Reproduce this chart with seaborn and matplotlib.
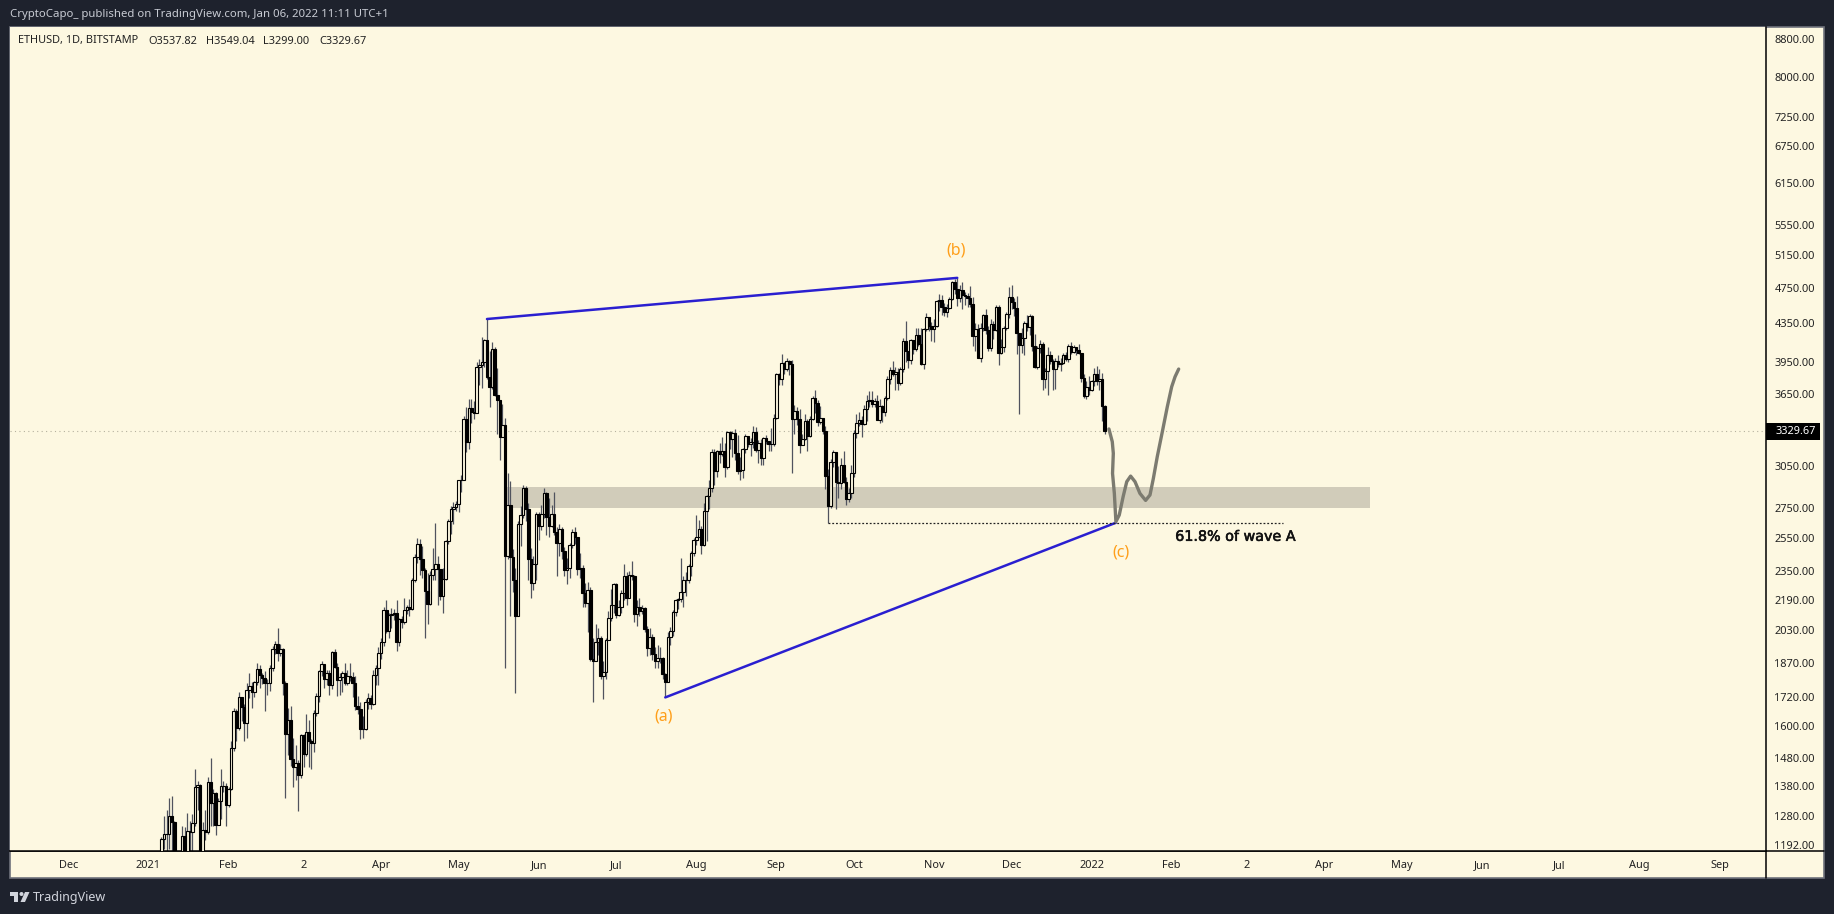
import numpy as np
import pandas as pd
import seaborn as sns
import matplotlib.pyplot as plt
import matplotlib.patheffects as pe
from matplotlib.patches import Rectangle, Circle, Polygon

# ==============================
# Daily candles, Jan 2021 - Jan 2022 (open = previous close)
# ==============================
closes = [
    730,775,979,1041,1101,1208,1225,1224,1281,1262,1090,1045,1130,1218,1171,1233,1230,1257,1377,1382,1120,1235,1231,1392,1323,1356,1253,1330,1380,1379,1314,
    1369,1515,1660,1593,1720,1677,1614,1750,1768,1743,1783,1843,1814,1804,1779,1781,1847,1937,1960,1920,1935,1781,1570,1626,1475,1446,1459,1417,
    1564,1492,1575,1541,1533,1654,1723,1835,1868,1800,1826,1770,1924,1854,1796,1807,1826,1780,1810,1806,1781,1680,1670,1590,1590,1700,1715,1692,1817,1846,1919,
    1970,2133,2024,2107,2112,2118,1970,2087,2071,2134,2151,2138,2299,2432,2513,2419,2355,2236,2167,2330,2360,2390,2365,2210,2305,2530,2660,2745,2755,2775,
    2945,2950,3430,3240,3520,3490,3480,3900,3920,3950,4165,3800,3715,4075,3640,3590,3280,3380,2440,2770,2435,2300,2100,2640,2700,2890,2740,2420,2280,2390,2710,
    2630,2710,2850,2690,2630,2710,2590,2520,2610,2470,2355,2370,2510,2590,2555,2365,2370,2225,2170,2245,1890,1880,1970,1990,1810,1830,1980,2090,2160,2275,
    2110,2150,2225,2320,2200,2325,2320,2115,2150,2130,2145,2035,1940,1995,1915,1880,1895,1895,1820,1785,1995,2025,2125,2190,2195,2230,2300,2300,2380,2460,2540,
    2555,2610,2510,2725,2830,2890,3160,3010,3165,3140,3165,3045,3320,3265,3310,3150,3010,3020,3180,3285,3225,3240,3320,3175,3230,3115,3270,3245,3225,3225,3435,
    3830,3785,3935,3885,3955,3930,3430,3500,3430,3210,3265,3410,3290,3430,3610,3570,3400,3435,3330,2975,2765,3080,3155,2930,2925,3060,2930,2810,2850,3000,
    3310,3390,3420,3385,3515,3580,3590,3560,3580,3420,3540,3490,3610,3790,3870,3830,3850,3745,3880,4160,4060,3970,4170,4080,4220,4130,3925,4290,4415,4320,4290,
    4320,4590,4600,4530,4475,4520,4615,4810,4730,4630,4720,4665,4650,4625,4555,4210,4290,3990,4300,4435,4270,4090,4340,4270,4525,4040,4095,4295,4445,4635,
    4585,4510,4240,4120,4190,4350,4310,4430,4110,3900,4085,4130,3785,3860,4020,3960,3880,3960,3930,3940,4020,3980,4110,4045,4100,4065,4035,3795,3630,3715,3680,
    3765,3830,3765,3790,3537.82,3329.67,
]
highs = [
    750,790,1010,1160,1130,1215,1280,1300,1340,1345,1265,1150,1135,1250,1245,1290,1265,1285,1438,1395,1385,1260,1300,1410,1478,1370,1360,1340,1438,1395,1390,
    1375,1540,1675,1670,1740,1700,1690,1780,1825,1785,1790,1870,1860,1825,1835,1800,1860,1950,1975,2040,1960,1940,1790,1675,1680,1555,1525,1470,
    1570,1570,1650,1625,1550,1665,1735,1840,1880,1865,1840,1840,1930,1935,1870,1825,1835,1870,1840,1870,1830,1810,1725,1700,1640,1710,1735,1730,1840,1860,1945,
    1990,2150,2190,2120,2145,2140,2190,2090,2100,2200,2160,2195,2310,2450,2550,2545,2500,2370,2340,2350,2490,2645,2440,2365,2370,2540,2675,2760,2790,2795,
    2950,2980,3450,3530,3600,3600,3580,3950,3980,4200,4180,4390,4060,4150,4100,3890,3590,3560,3440,3000,2940,2480,2370,2660,2760,2910,2900,2780,2490,2440,2720,
    2720,2770,2890,2860,2820,2770,2860,2620,2640,2620,2495,2430,2520,2610,2625,2560,2460,2385,2280,2285,2260,1990,2060,2040,2000,1880,1990,2130,2250,2280,
    2280,2185,2240,2390,2345,2350,2410,2325,2190,2200,2160,2150,2050,2040,2010,1945,1955,1945,1900,1825,2020,2045,2135,2195,2200,2430,2320,2345,2395,2470,2550,
    2700,2665,2630,2780,2840,2950,3180,3185,3175,3230,3280,3230,3330,3330,3330,3340,3295,3120,3190,3300,3280,3270,3370,3360,3250,3260,3280,3295,3245,3350,3470,
    3840,3840,4025,3945,3985,3970,3970,3550,3530,3510,3300,3470,3430,3450,3630,3680,3590,3540,3440,3370,3030,3105,3175,3160,3050,3110,3170,2970,2885,3060,
    3335,3470,3490,3450,3545,3640,3670,3670,3610,3640,3600,3550,3630,3810,3900,3960,3900,3890,3900,4190,4370,4060,4180,4170,4300,4300,4300,4300,4460,4400,4360,
    4395,4605,4670,4665,4570,4560,4640,4825,4850,4868,4780,4810,4700,4690,4765,4640,4345,4340,4350,4450,4500,4320,4390,4370,4550,4550,4180,4320,4470,4760,
    4785,4625,4650,4240,4300,4370,4440,4450,4440,4230,4110,4170,4150,3895,4095,4060,3980,3990,4020,3985,4040,4045,4130,4150,4115,4100,4125,4040,3830,3770,3810,
    3780,3890,3905,3880,3845,3549.04,
]
lows = [
    715,715,775,900,1000,1070,1180,1150,1180,1170,950,1000,1030,1115,1100,1160,1170,1170,1250,1300,1060,1100,1205,1225,1250,1250,1220,1260,1270,1360,1250,
    1310,1365,1505,1540,1585,1620,1540,1555,1715,1675,1720,1770,1760,1775,1660,1730,1745,1835,1915,1880,1905,1730,1340,1490,1450,1375,1400,1295,
    1405,1445,1485,1445,1440,1500,1640,1700,1810,1760,1770,1730,1755,1850,1725,1730,1740,1770,1770,1790,1720,1665,1650,1550,1555,1585,1670,1670,1685,1770,1770,
    1890,1950,2015,1990,2040,2080,1930,1950,2040,2060,2115,2100,2135,2290,2400,2330,2310,1990,2060,2160,2300,2300,2160,2190,2120,2300,2515,2575,2640,2730,
    2720,2860,2950,3160,3180,3390,3430,3480,3730,3700,3900,3790,3530,3690,3630,3300,3100,3300,1850,2420,2100,2230,1735,2100,2500,2680,2660,2300,2200,2240,2300,
    2540,2600,2680,2570,2560,2620,2570,2320,2440,2420,2320,2275,2310,2490,2515,2330,2310,2150,2150,2020,1880,1700,1880,1910,1800,1710,1800,2000,2075,2120,
    2090,2100,2120,2190,2160,2205,2300,2070,2050,2100,2115,2020,1905,1910,1885,1850,1850,1870,1800,1720,1785,1955,2000,2100,2140,2175,2150,2210,2280,2320,2440,
    2510,2555,2450,2500,2530,2745,2860,2910,2970,3070,3130,2970,3030,3180,3120,3100,2990,2950,2960,3150,3200,3130,3190,3160,3070,3060,3060,3220,3170,3165,3205,
    3425,3725,3730,3835,3860,3820,3000,3300,3380,3150,3215,3250,3170,3280,3420,3480,3370,3385,3300,2880,2645,2750,3040,2740,2820,2880,2925,2770,2790,2820,
    2970,3270,3370,3280,3380,3410,3530,3530,3530,3420,3395,3400,3450,3590,3740,3810,3680,3680,3730,3850,3950,3890,3930,4030,4060,4110,3920,3880,4260,4260,4160,
    4150,4310,4480,4440,4430,4420,4505,4600,4680,4535,4580,4500,4550,4530,4530,4110,4060,3985,3950,4265,4230,4060,4060,4180,4260,3920,4030,4050,4280,4400,
    4500,4430,4030,3470,4040,4020,4260,4220,4060,3890,3880,4040,3680,3700,3640,3930,3680,3690,3900,3860,3930,3955,3950,4030,4040,4020,4030,3760,3610,3600,3640,
    3675,3720,3725,3680,3410,3299.00,
]

# Drawings on the chart, x is days since 2021-01-01
upper_line_days = [131, 313]
upper_line_prices = [4393, 4865]
lower_line_days = [200, 374.4]
lower_line_prices = [1718, 2650]
support_days = [263, 439]
support_price = 2648
zone_days = [138.7, 472.7]
zone_prices = [2750, 2895]
forecast_days = [371.7, 373.0, 373.4, 373.1, 373.8, 374.4, 375.7, 377.2, 378.6, 380.1, 381.8,
                 383.7, 385.9, 387.6, 388.9, 390.4, 392.5, 394.3, 396.0, 397.3, 398.7]
forecast_prices = [3344, 3240, 3148, 2995, 2850, 2657, 2701, 2827, 2934, 2975, 2934,
                   2850, 2801, 2839, 2958, 3121, 3335, 3534, 3714, 3807, 3880]

price_ticks = [8800, 8000, 7250, 6750, 6150, 5550, 5150, 4750, 4350, 3950, 3650, 3050,
               2750, 2550, 2350, 2190, 2030, 1870, 1720, 1600, 1480, 1380, 1280, 1192]
time_tick_dates = ["2020-12-01", "2021-01-01", "2021-02-01", "2021-03-02", "2021-04-01", "2021-05-01",
                   "2021-06-01", "2021-07-01", "2021-08-01", "2021-09-01", "2021-10-01", "2021-11-01",
                   "2021-12-01", "2022-01-01", "2022-02-01", "2022-03-02", "2022-04-01", "2022-05-01",
                   "2022-06-01", "2022-07-01", "2022-08-01", "2022-09-01"]
time_tick_labels = ["Dec", "2021", "Feb", "2", "Apr", "May", "Jun", "Jul", "Aug", "Sep", "Oct", "Nov",
                    "Dec", "2022", "Feb", "2", "Apr", "May", "Jun", "Jul", "Aug", "Sep"]

# ==============================
# Colours
# ==============================
DARK = "#1e222d"
CREAM = "#fdf8e1"
BLUE = "#2a1fd0"
ORANGE = "#ff9f1a"
FONT = "Noto Sans"

sns.set_theme(style="white")
plt.rcParams["font.family"] = [FONT, "DejaVu Sans"]

start = pd.Timestamp("2021-01-01")
candles = pd.DataFrame({"close": closes, "high": highs, "low": lows})
candles["open"] = candles["close"].shift(1).fillna(737.0)
candles["day"] = np.arange(len(candles))
up = candles[candles["close"] >= candles["open"]]
down = candles[candles["close"] < candles["open"]]

fig = plt.figure(figsize=(18.34, 9.14), dpi=100, facecolor=DARK)

# frame in pixel coordinates, sits behind the chart
frame = fig.add_axes([0, 0, 1, 1], zorder=0)
frame.set_xlim(0, 1834)
frame.set_ylim(914, 0)
frame.axis("off")
frame.add_patch(Rectangle((10, 27), 1814, 851, fc=CREAM, ec="#6f727c", lw=1.2))
frame.plot([10, 1824], [851, 851], color="black", lw=1.1)
frame.plot([1766, 1766], [851, 878], color="black", lw=1.1)

# TradingView mark and header text
LOGO = "#d1d4dc"
frame.add_patch(Polygon([(10, 892), (18, 892), (18, 902), (14, 902), (14, 896), (10, 896)], fc=LOGO, ec="none"))
frame.add_patch(Circle((21.5, 894), 2, fc=LOGO, ec="none"))
frame.add_patch(Polygon([(25, 892), (29.5, 892), (25, 902), (20.5, 902)], fc=LOGO, ec="none"))
frame.text(33, 897, "TradingView", color=LOGO, fontsize=9, va="center", ha="left")
frame.text(10, 15, "CryptoCapo_ published on TradingView.com, Jan 06, 2022 11:11 UTC+1",
           color="#c8cbd3", fontsize=8.2, va="center", ha="left")

# last price tag on the price scale
frame.add_patch(Rectangle((1766, 423), 54, 17, fc="black", ec="none"))
frame.text(1776, 431.5, f"{closes[-1]:.2f}", color="white", fontsize=7.9, fontweight="bold",
           va="center", ha="left")

# ==============================
# Main chart
# ==============================
ax = fig.add_axes([10 / 1834, 1 - 851 / 914, 1756 / 1834, 824 / 914], zorder=1)
ax.set_facecolor(CREAM)
ax.set_yscale("log")
ax.set_xlim(-53.6, 626)
ax.set_ylim(1173.6, 9066)

# zone and last price line
ax.add_patch(Rectangle((zone_days[0], zone_prices[0]), zone_days[1] - zone_days[0],
                       zone_prices[1] - zone_prices[0], fc="#d1ccba", ec="none", zorder=1))
ax.axhline(closes[-1], color="#b5b19e", lw=0.8, ls=(0, (1, 3)), zorder=1)

# candles
ax.vlines(candles["day"], candles["low"], candles["high"], color="#50535e", lw=0.9, zorder=2)
ax.bar(up["day"], up["close"] - up["open"], bottom=up["open"], width=1.0,
       color=CREAM, edgecolor="black", linewidth=0.8, zorder=3)
ax.bar(down["day"], down["open"] - down["close"], bottom=down["close"], width=1.0,
       color="black", edgecolor="black", linewidth=0.8, zorder=3)

# wave lines and forecast path
sns.lineplot(x=upper_line_days, y=upper_line_prices, ax=ax, color=BLUE, lw=1.8, zorder=4, sort=False)
sns.lineplot(x=lower_line_days, y=lower_line_prices, ax=ax, color=BLUE, lw=1.8, zorder=4, sort=False)
ax.hlines(support_price, support_days[0], support_days[1], color="#222222", lw=0.9, ls=(0, (1.5, 1.5)), zorder=4)
sns.lineplot(x=forecast_days, y=forecast_prices, ax=ax, color="#7c7b70", lw=2.4, zorder=5,
             sort=False, estimator=None, solid_capstyle="round")

# labels
ax.text(199.5, 1640, "(a)", color=ORANGE, fontsize=11.5, ha="center", va="center")
ax.text(312.5, 5213, "(b)", color=ORANGE, fontsize=11.5, ha="center", va="center")
ax.text(376.5, 2461, "(c)", color=ORANGE, fontsize=11.5, ha="center", va="center")
ax.text(420.5, 2559, "61.8% of wave A", color="#111111", fontsize=10.3, ha="center", va="center",
        family="DejaVu Sans", path_effects=[pe.withStroke(linewidth=0.4, foreground="#111111")])

# axes
ax.yaxis.tick_right()
ax.set_yticks(price_ticks, [f"{p:.2f}" for p in price_ticks])
ax.minorticks_off()
ax.set_xticks([(pd.Timestamp(d) - start).days for d in time_tick_dates], time_tick_labels)
ax.tick_params(axis="both", length=0, labelsize=7.9, labelcolor="#222222")
ax.tick_params(axis="y", pad=6)
ax.tick_params(axis="x", pad=6.8)
for side in ["top", "left"]:
    ax.spines[side].set_visible(False)
for side in ["right", "bottom"]:
    ax.spines[side].set_color("black")
    ax.spines[side].set_linewidth(1.1)

# symbol and OHLC line
ohlc_text = ["ETHUSD, 1D, BITSTAMP", "O3537.82", "H3549.04", "L3299.00", "C3329.67"]
ohlc_x = [18, 148, 206, 263, 319]
for x_px, label in zip(ohlc_x, ohlc_text):
    fig.text(x_px / 1834, 1 - 41 / 914, label, color="#222222", fontsize=7.9, va="center", ha="left", zorder=10)

fig.savefig("out.png", dpi=100, facecolor=DARK)
